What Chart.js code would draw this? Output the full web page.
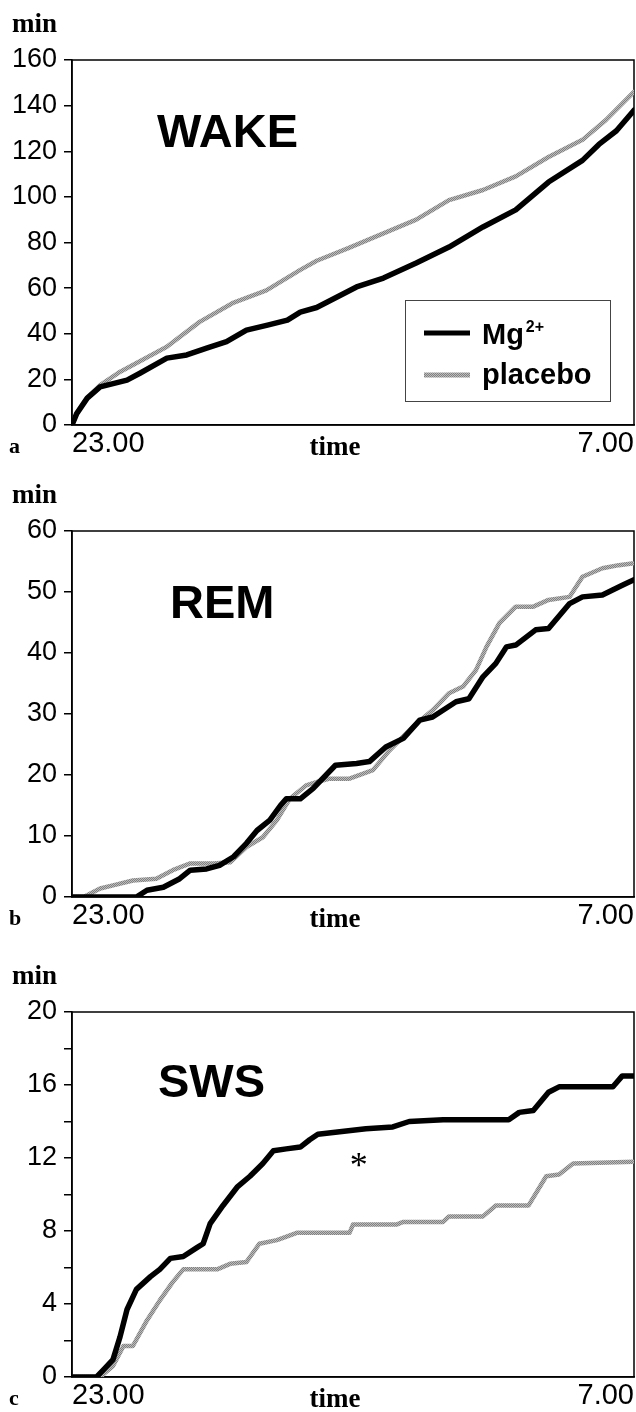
<!DOCTYPE html>
<html>
<head>
<meta charset="utf-8">
<script src="https://cdn.jsdelivr.net/npm/chart.js@4.4.1/dist/chart.umd.min.js"></script>
<style>
  body { margin: 0; background: #fff; }
  .panel { position: absolute; left: 0; width: 636px; }
</style>
</head>
<body>
<div class="panel" style="top:0;height:460px"><canvas id="wake" width="636" height="460"></canvas></div>
<div class="panel" style="top:460px;height:470px"><canvas id="rem" width="636" height="470"></canvas></div>
<div class="panel" style="top:930px;height:482px"><canvas id="sws" width="636" height="482"></canvas></div>
<script>
// time axis: minutes after 23.00, up to 7.00
const timeTicks = [0, 480];
const timeLabels = ["23.00", "7.00"];

// a) WAKE, cumulative minutes
const wakeMgTime = [0, 4, 13, 24, 47, 58, 81, 98, 115, 132, 149, 167, 184, 195, 209, 243, 266, 294, 322, 351, 379, 407, 436, 450, 465, 480];
const wakeMg = [0, 5, 11.8, 16.7, 19.7, 22.7, 29.3, 30.7, 33.7, 36.5, 41.6, 43.8, 46, 49.5, 51.5, 60.5, 64.4, 71, 78, 86.8, 94.3, 106.5, 116, 123, 129, 138];
const wakePlTime = [0, 4, 13, 24, 40, 52, 81, 109, 137, 166, 195, 209, 236, 266, 294, 322, 351, 379, 407, 436, 456, 480];
const wakePl = [0, 5, 12, 17.5, 23, 26.3, 34.3, 45.2, 53.4, 59, 68, 72, 77.5, 84, 90, 98.6, 103, 109, 117.5, 125, 133.7, 146];

// b) REM
const remMgTime = [0, 55, 64, 78, 92, 101, 115, 126, 138, 149, 158, 169, 178, 183, 195, 206, 225, 243, 254, 268, 283, 297, 308, 328, 339, 351, 362, 371, 379, 396, 407, 425, 436, 453, 470, 480];
const remMg = [0, 0, 1.1, 1.6, 3, 4.4, 4.6, 5.2, 6.6, 8.8, 10.9, 12.6, 15, 16.1, 16.1, 17.8, 21.6, 21.9, 22.2, 24.6, 26, 29, 29.5, 32, 32.5, 36.1, 38.3, 41, 41.3, 43.8, 44, 48.1, 49.2, 49.5, 51.1, 52];
const remPlTime = [0, 10, 24, 35, 52, 72, 86, 101, 121, 135, 149, 163, 175, 186, 200, 210, 220, 237, 257, 271, 291, 308, 322, 334, 345, 354, 365, 379, 394, 407, 425, 436, 453, 467, 480];
const remPl = [0, 0, 1.4, 1.9, 2.7, 3, 4.4, 5.5, 5.5, 5.7, 8.2, 9.8, 12.6, 16.1, 18.3, 18.9, 19.4, 19.4, 20.8, 24, 27.9, 30.6, 33.4, 34.5, 37.2, 41, 44.9, 47.6, 47.6, 48.7, 49.2, 52.5, 53.9, 54.4, 54.7];

// c) SWS
const swsMgTime = [0, 21, 27, 35, 41, 47, 55, 67, 75, 84, 95, 107, 112, 118, 129, 141, 152, 163, 172, 183, 195, 203, 210, 251, 274, 288, 317, 373, 382, 394, 407, 416, 462, 470, 480];
const swsMg = [0, 0, 0.4, 0.95, 2.2, 3.7, 4.8, 5.5, 5.9, 6.5, 6.6, 7.1, 7.3, 8.4, 9.4, 10.4, 11, 11.7, 12.4, 12.5, 12.6, 13, 13.3, 13.6, 13.7, 14, 14.1, 14.1, 14.5, 14.6, 15.6, 15.9, 15.9, 16.5, 16.5];
const swsPlTime = [0, 24, 35, 44, 52, 64, 75, 86, 95, 124, 135, 149, 160, 175, 192, 237, 240, 277, 283, 317, 322, 351, 362, 390, 405, 416, 428, 480];
const swsPl = [0, 0, 0.6, 1.7, 1.7, 3.1, 4.2, 5.2, 5.9, 5.9, 6.2, 6.3, 7.3, 7.5, 7.9, 7.9, 8.35, 8.35, 8.5, 8.5, 8.8, 8.8, 9.4, 9.4, 11, 11.1, 11.7, 11.8];

const SANS = '"Liberation Sans", Arial, sans-serif';
const SERIF = '"Liberation Serif", "Times New Roman", serif';

function toPoints(times, values) {
    return times.map((t, i) => ({ x: t, y: values[i] }));
}

// stippled grey like the printed placebo line
function grayPattern(ctx) {
    const c = document.createElement("canvas");
    c.width = 2;
    c.height = 2;
    const g = c.getContext("2d");
    g.fillStyle = "#bcbcbc";
    g.fillRect(0, 0, 2, 2);
    g.fillStyle = "#808080";
    g.fillRect(0, 0, 1, 1);
    g.fillRect(1, 1, 1, 1);
    return ctx.createPattern(c, "repeat");
}

const decor = {
    id: "decor",
    beforeDatasetsDraw(chart) {
        const { ctx, chartArea: a } = chart;
        ctx.save();
        ctx.strokeStyle = "#000";
        ctx.lineWidth = 1.5;
        ctx.strokeRect(a.left, a.top, a.right - a.left, a.bottom - a.top);
        ctx.restore();
    },
    afterDraw(chart, args, o) {
        const { ctx, chartArea: a } = chart;
        ctx.save();
        ctx.fillStyle = "#000";
        ctx.textBaseline = "alphabetic";

        ctx.textAlign = "left";
        ctx.font = "bold 27px " + SERIF;
        ctx.fillText("min", 12, a.top - 28);
        ctx.font = "bold 22px " + SERIF;
        ctx.fillText(o.letter, 9, a.bottom + 28);

        ctx.textAlign = "center";
        ctx.font = "bold 27px " + SERIF;
        ctx.fillText("time", a.left + 263, a.bottom + 30);

        ctx.textAlign = "left";
        ctx.font = "bold 47px " + SANS;
        ctx.fillText(o.title, o.titleX, a.top + o.titleY);

        if (o.note) {
            const x = chart.scales.x.getPixelForValue(o.note.t);
            const y = chart.scales.y.getPixelForValue(o.note.v);
            ctx.textAlign = "center";
            ctx.textBaseline = "middle";
            ctx.font = "36px " + SERIF;
            ctx.fillText(o.note.text, x, y + 8);
        }

        if (o.legend) {
            const bx = a.right - 229, by = a.bottom - 125, bw = 205, bh = 101;
            ctx.strokeStyle = "#444";
            ctx.lineWidth = 1;
            ctx.strokeRect(bx + 0.5, by + 0.5, bw, bh);
            const ds = chart.data.datasets;
            ctx.lineWidth = 5;
            ctx.strokeStyle = ds[0].borderColor;
            ctx.beginPath();
            ctx.moveTo(bx + 19, by + 33);
            ctx.lineTo(bx + 65, by + 33);
            ctx.stroke();
            ctx.strokeStyle = ds[1].borderColor;
            ctx.beginPath();
            ctx.moveTo(bx + 19, by + 75);
            ctx.lineTo(bx + 65, by + 75);
            ctx.stroke();
            ctx.textAlign = "left";
            ctx.textBaseline = "alphabetic";
            ctx.font = "bold 29px " + SANS;
            ctx.fillText("Mg", bx + 77, by + 44);
            const w = ctx.measureText("Mg").width;
            ctx.font = "bold 16px " + SANS;
            ctx.fillText("2+", bx + 79 + w, by + 32);
            ctx.font = "bold 29px " + SANS;
            ctx.fillText("placebo", bx + 77, by + 84);
        }
        ctx.restore();
    },
};

function makePanel(id, p) {
    const ctx = document.getElementById(id).getContext("2d");
    return new Chart(ctx, {
        type: "line",
        data: {
            datasets: [
                { label: "Mg2+", data: toPoints(p.mgTime, p.mg), borderColor: "#000", borderWidth: 5.5 },
                { label: "placebo", data: toPoints(p.plTime, p.pl), borderColor: grayPattern(ctx), borderWidth: 4.5 },
            ],
        },
        options: {
            responsive: false,
            animation: false,
            devicePixelRatio: 1,
            layout: { padding: { top: p.top, right: 2, left: 0, bottom: 0 } },
            elements: {
                point: { radius: 0 },
                line: { tension: 0, borderJoinStyle: "round", borderCapStyle: "round" },
            },
            plugins: {
                legend: { display: false },
                tooltip: { enabled: false },
                decor: p.decor,
            },
            scales: {
                x: {
                    type: "linear",
                    min: 0,
                    max: 480,
                    afterBuildTicks: (s) => { s.ticks = timeTicks.map((v) => ({ value: v })); },
                    afterFit: (s) => { s.height = p.xAxisH; },
                    grid: { display: false },
                    border: { display: true, color: "#000", width: 1.5 },
                    ticks: {
                        align: "inner",
                        maxRotation: 0,
                        autoSkip: false,
                        padding: -6,
                        color: "#000",
                        font: { family: SANS, size: 29 },
                        callback: (v) => timeLabels[timeTicks.indexOf(v)],
                    },
                },
                y: {
                    min: 0,
                    max: p.yMax,
                    afterFit: (s) => { s.width = 72; },
                    grid: { drawOnChartArea: false, color: "#000", lineWidth: 1.5, tickLength: 8 },
                    border: { color: "#000", width: 1.5 },
                    ticks: {
                        stepSize: p.step,
                        padding: 7,
                        color: "#000",
                        font: { family: SANS, size: 27 },
                        callback: (v) => (v % p.labelEvery === 0 ? v : ""),
                    },
                },
            },
        },
        plugins: [decor],
    });
}

makePanel("wake", {
    mgTime: wakeMgTime, mg: wakeMg, plTime: wakePlTime, pl: wakePl,
    yMax: 160, step: 20, labelEvery: 20, top: 60, xAxisH: 35,
    decor: { letter: "a", title: "WAKE", titleX: 157, titleY: 87, legend: true },
});
makePanel("rem", {
    mgTime: remMgTime, mg: remMg, plTime: remPlTime, pl: remPl,
    yMax: 60, step: 10, labelEvery: 10, top: 71, xAxisH: 33,
    decor: { letter: "b", title: "REM", titleX: 170, titleY: 87 },
});
makePanel("sws", {
    mgTime: swsMgTime, mg: swsMg, plTime: swsPlTime, pl: swsPl,
    yMax: 20, step: 2, labelEvery: 4, top: 82, xAxisH: 35,
    decor: { letter: "c", title: "SWS", titleX: 158, titleY: 85, note: { t: 245, v: 11.9, text: "*" } },
});
</script>
</body>
</html>
